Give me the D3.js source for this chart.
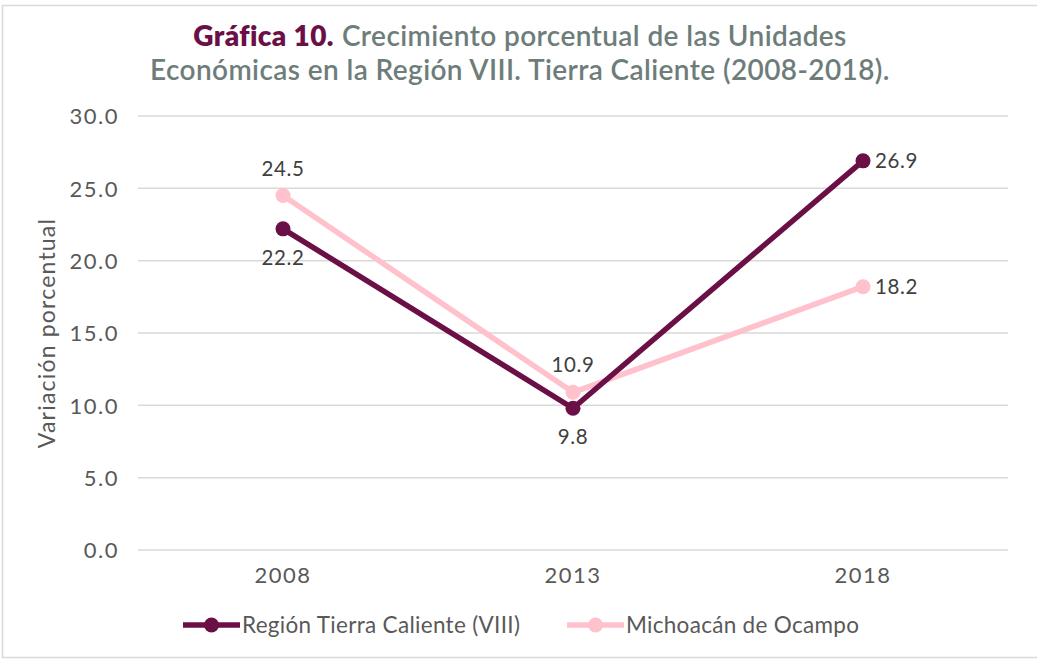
<!DOCTYPE html>
<html>
<head>
<meta charset="utf-8">
<script src="https://cdn.jsdelivr.net/npm/d3@7"></script>
<style>
  html, body { margin: 0; padding: 0; background: #fff; }
  svg { display: block; font-family: Lato, "Open Sans", sans-serif; }
</style>
</head>
<body>
<svg id="chart"></svg>
<script>
// data
var years = ["2008", "2013", "2018"];
var regionValues = [22.2, 9.8, 26.9];
var estadoValues = [24.5, 10.9, 18.2];
var yTicks = [0, 5, 10, 15, 20, 25, 30];
var seriesNames = ["Región Tierra Caliente (VIII)", "Michoacán de Ocampo"];

var width = 1037, height = 660;
var margin = { top: 116, right: 29, bottom: 110, left: 138 };
var colDark = "#6b0f47", colPink = "#ffc1cc", colTitle = "#6e7d7a";

var svg = d3.select("#chart").attr("width", width).attr("height", height);

// outer frame
svg.append("rect")
  .attr("x", 2.5).attr("y", 5.5)
  .attr("width", width + 10).attr("height", 652)
  .attr("fill", "none").attr("stroke", "#d9d9d9").attr("stroke-width", 1.5);

// title, first line in two pieces measured so the whole line is centred
var tA = svg.append("text").attr("y", 46).attr("font-size", 28)
  .attr("letter-spacing", 0.4)
  .attr("font-weight", 800).attr("fill", colDark).text("Gráfica 10.");
var tB = svg.append("text").attr("y", 46).attr("font-size", 28)
  .attr("letter-spacing", 0.4)
  .attr("font-weight", 600).attr("fill", colTitle)
  .text("Crecimiento porcentual de las Unidades");
var wA = tA.node().getComputedTextLength(), wB = tB.node().getComputedTextLength();
var gap = 8, x0 = 520 - (wA + gap + wB) / 2;
tA.attr("x", x0);
tB.attr("x", x0 + wA + gap);
svg.append("text").attr("x", 520).attr("y", 80)
  .attr("text-anchor", "middle").attr("font-size", 28)
  .attr("letter-spacing", 0.4)
  .attr("font-weight", 600).attr("fill", colTitle)
  .text("Económicas en la Región VIII. Tierra Caliente (2008-2018).");

var x = d3.scaleBand().domain(years)
  .range([margin.left, width - margin.right]);
var y = d3.scaleLinear().domain([0, 30])
  .range([height - margin.bottom, margin.top]);

// gridlines
svg.append("g")
  .selectAll("line")
  .data(yTicks)
  .enter().append("line")
  .attr("x1", margin.left).attr("x2", width - margin.right)
  .attr("y1", function (d) { return y(d); })
  .attr("y2", function (d) { return y(d); })
  .attr("stroke", "#d9d9d9").attr("stroke-width", 1.5);

// y axis
var yAxis = svg.append("g")
  .attr("transform", "translate(" + (margin.left - 16) + ",0)")
  .call(d3.axisLeft(y).tickValues(yTicks).tickSize(0).tickFormat(d3.format(".1f")));
yAxis.select(".domain").remove();
yAxis.selectAll("text").attr("font-size", 22).attr("fill", "#595959")
  .attr("letter-spacing", 1.5)
  .attr("font-family", "Lato, sans-serif").attr("dy", "0.35em");

// x axis
var xAxis = svg.append("g")
  .attr("transform", "translate(0," + (height - margin.bottom + 14) + ")")
  .call(d3.axisBottom(x).tickSize(0));
xAxis.select(".domain").remove();
xAxis.selectAll("text").attr("font-size", 22).attr("fill", "#595959")
  .attr("letter-spacing", 1.5)
  .attr("font-family", "Lato, sans-serif").attr("dy", "0.71em");

// axis title
svg.append("text")
  .attr("transform", "translate(55," + ((margin.top + height - margin.bottom) / 2) + ") rotate(-90)")
  .attr("text-anchor", "middle")
  .attr("font-size", 23).attr("letter-spacing", 1.2).attr("fill", "#595959")
  .text("Variación porcentual");

var cx = function (d, i) { return x(years[i]) + x.bandwidth() / 2; };
var line = d3.line()
  .x(function (d, i) { return cx(d, i); })
  .y(function (d) { return y(d); });

function drawSeries(values, color) {
  svg.append("path").datum(values)
    .attr("d", line)
    .attr("fill", "none").attr("stroke", color)
    .attr("stroke-width", 5.5).attr("stroke-linejoin", "round");
  svg.append("g").selectAll("circle")
    .data(values).enter().append("circle")
    .attr("cx", cx).attr("cy", function (d) { return y(d); })
    .attr("r", 7.5).attr("fill", color);
}
drawSeries(estadoValues, colPink);
drawSeries(regionValues, colDark);

// data labels: position per point (above / below / right)
var regionPos = ["below", "below", "right"];
var estadoPos = ["above", "above", "right"];
function drawLabels(values, pos) {
  svg.append("g").selectAll("text")
    .data(values).enter().append("text")
    .attr("x", function (d, i) { return pos[i] === "right" ? cx(d, i) + 12 : cx(d, i); })
    .attr("y", function (d, i) {
      if (pos[i] === "above") return y(d) - 20;
      if (pos[i] === "below") return y(d) + 36;
      return y(d) + 7;
    })
    .attr("text-anchor", function (d, i) { return pos[i] === "right" ? "start" : "middle"; })
    .attr("font-size", 20.5).attr("letter-spacing", 0.6).attr("fill", "#404040")
    .text(function (d) { return d3.format(".1f")(d); });
}
drawLabels(estadoValues, estadoPos);
drawLabels(regionValues, regionPos);

// legend
var legend = [
  { name: seriesNames[0], color: colDark, x: 183 },
  { name: seriesNames[1], color: colPink, x: 567 }
];
var lg = svg.append("g").selectAll("g").data(legend).enter().append("g")
  .attr("transform", function (d) { return "translate(" + d.x + ",625)"; });
lg.append("line").attr("x1", 0).attr("x2", 57)
  .attr("stroke", function (d) { return d.color; }).attr("stroke-width", 5.5);
lg.append("circle").attr("cx", 28.5).attr("r", 7.5)
  .attr("fill", function (d) { return d.color; });
lg.append("text").attr("x", 59).attr("dy", "0.35em")
  .attr("font-size", 22.5).attr("letter-spacing", 0.3).attr("fill", "#595959")
  .text(function (d) { return d.name; });
</script>
</body>
</html>
